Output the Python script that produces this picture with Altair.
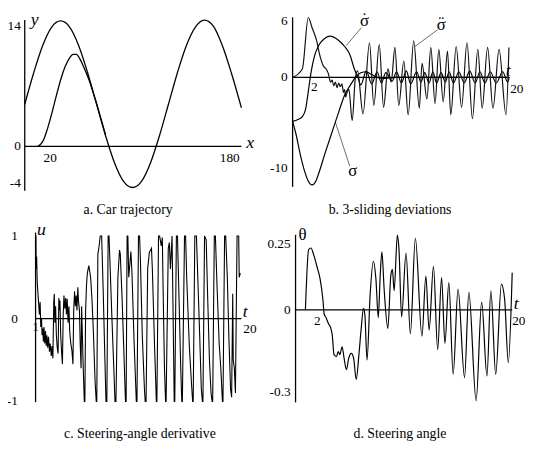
import altair as alt
import pandas as pd

# ---------------- data ----------------
# a. Car trajectory: (x, y)
A_OUTER = [(0, 4.8), (8, 8.4), (16, 11.5), (24, 13.6), (32, 14.3), (40, 13.6), (48, 11.5), (56, 8.4),
           (64, 4.8), (72, 1.2), (80, -1.9), (88, -4.0), (96, -4.7), (104, -4.0), (112, -1.9), (120, 1.2),
           (128, 4.8), (136, 8.4), (144, 11.5), (152, 13.6), (160, 14.4), (168, 13.7), (176, 11.5),
           (184, 8.4), (193, 4.4)]
A_INNER = [(11.5, 0), (14, 0.2), (17, 0.8), (20, 1.9), (24, 3.7), (28, 5.7), (32, 7.6), (36, 9.1),
           (40, 10.1), (43, 10.5), (46, 10.5), (49, 10.0), (52, 9.2), (55, 8.3), (58, 7.3), (61, 6.1),
           (64, 4.9), (68, 3.1), (72, 1.3)]

# b. 3-sliding deviations
B_T_SIGMA = [0, 0.3, 0.7, 1.1, 1.45, 1.8, 2.1, 2.4, 3.0, 3.6, 4.2, 4.8, 5.4, 5.8, 6.3, 6.8, 7.3, 7.8, 8.5, 9.5, 20.0]
B_SIGMA = [-4.7, -6.0, -8.2, -10.0, -11.1, -11.5, -11.2, -10.3, -8.1, -6.0, -3.9, -1.9, -0.7, 0.0, 0.5, 0.6,
           0.3, 0.0, -0.1, 0.0, 0.0]
B_T_SDOT = [0, 0.5, 0.9, 1.2, 1.45, 1.7, 2.0, 2.4, 2.9, 3.45, 4.2, 4.8, 5.3, 5.7, 6.0, 6.3, 6.8, 7.3, 7.8, 8.2,
            8.6, 9.2, 9.6, 10.05, 10.5, 10.9, 11.45, 11.85, 12.2, 12.6, 12.95, 13.3, 13.7, 14.1, 14.45, 14.85,
            15.35, 15.85, 16.35, 16.85, 17.3, 17.75, 18.25, 18.8, 19.4, 19.85, 20.0]
B_SDOT = [-4.7, -4.5, -4.2, -3.4, -1.5, 0.5, 2.2, 3.4, 4.1, 4.4, 4.0, 3.3, 2.4, 0.9, 0.1, -0.8, 0.7, -0.7, 0.6,
          -0.6, 0.5, -0.4, 0.6, -0.6, 0.7, -0.7, 0.6, -0.5, 0.5, -0.6, 0.6, -0.6, 0.5, -0.5, 0.6, -0.6, 0.6,
          -0.6, 0.7, -0.6, 0.6, -0.6, 0.6, -0.6, 0.6, -0.5, 0.0]
B_T_SDDOT = [0, 0.9, 1.45, 1.8, 2.2, 2.55, 2.85, 3.1, 3.3, 3.5, 3.65, 3.8, 3.95, 4.1, 4.25, 4.4, 4.55, 4.7, 4.8,
             4.9, 5.0, 5.2, 5.5, 5.8, 6.0, 6.5, 7.1, 7.5, 8.0, 8.4, 8.8, 9.1, 9.45, 9.8, 10.27, 10.67, 11.18,
             11.7, 11.95, 12.4, 12.76, 13.15, 13.5, 13.9, 14.3, 14.6, 15.1, 15.6, 16.1, 16.6, 17.1, 17.5, 18.0,
             18.5, 19.06, 19.7, 19.97]
B_SDDOT = [0, 0.9, 6.4, 5.3, 4.0, 2.2, 1.2, 0.9, 0.4, -0.5, -0.3, -0.9, -0.5, -1.1, -0.6, -1.0, -0.7, -1.6,
           -1.3, -2.1, -1.7, -1.3, -4.6, 0.0, 0.7, -3.9, 3.7, -3.0, 3.5, -3.2, 0.9, -0.5, 3.2, -3.0, 1.75, -4.0,
           3.9, -3.3, 1.5, -2.3, 3.2, -2.8, 3.0, -2.6, 2.8, -4.0, 3.3, -3.2, 3.7, -4.4, 3.0, -3.3, 3.2, -3.3,
           3.0, -4.0, 3.2]

# c. Steering-angle derivative: (t, u)
C_POINTS = [
    (1.0, 1.0), (1.03, 1.0), (1.05, 0.6), (1.1, 0.75), (1.15, 0.45), (1.25, 0.25), (1.35, 0.05), (1.42, 0.2),
    (1.48, -0.1), (1.55, 0.0), (1.6, -0.2), (1.67, -0.12), (1.72, -0.28), (1.78, -0.1), (1.85, -0.3),
    (1.92, -0.15), (1.98, -0.33), (2.05, -0.2), (2.12, -0.35), (2.2, -0.22), (2.28, -0.4), (2.35, -0.3),
    (2.45, -0.45), (2.52, -0.33), (2.6, -0.48), (2.68, 0.2), (2.73, 0.3), (2.78, -0.05), (2.85, 0.15),
    (2.92, -0.2), (3.0, -0.35), (3.08, -0.42), (3.15, 0.25), (3.2, 0.1), (3.25, 0.22), (3.32, -0.2),
    (3.4, -0.4), (3.48, -0.55), (3.55, 0.05), (3.62, 0.28), (3.7, 0.12), (3.78, 0.25), (3.85, 0.05),
    (3.92, 0.24), (4.0, -0.05), (4.08, 0.15), (4.15, -0.15), (4.25, -0.3), (4.35, -0.38), (4.45, -0.55),
    (4.52, 0.1), (4.6, 0.33), (4.68, 0.15), (4.75, 0.28), (4.82, 0.1), (4.9, 0.38), (4.97, 0.2), (5.05, 0.1),
    (5.12, -0.3), (5.2, -0.6), (5.25, 0.15), (5.32, -0.2), (5.4, -0.6), (5.5, -1.0), (5.55, -1.0), (5.62, 0.1),
    (5.7, 0.4), (5.78, 0.55), (5.85, 0.6), (5.92, 0.64), (6.0, 0.57), (6.08, 0.5), (6.2, 0.25), (6.35, -0.2),
    (6.45, -0.6), (6.5, -0.77),
    (6.6, -1.0), (6.65, -1.0), (6.75, 0.78), (6.85, 0.86), (6.97, 1.0), (7.1, 1.0), (7.25, 0.3), (7.4, -0.5),
    (7.5, -1.0), (7.58, -1.0), (7.7, 1.0), (7.78, 1.0), (7.85, 0.75), (8.05, 0.0), (8.25, -0.7), (8.33, -1.0),
    (8.42, -1.0), (8.6, 0.5), (8.75, 0.83), (8.82, 0.78), (9.0, 0.2), (9.2, -0.6), (9.3, -1.0), (9.36, -1.0),
    (9.45, 1.0), (9.52, 1.0), (9.6, 0.5), (9.8, 0.81), (9.9, 0.55), (10.1, -0.3), (10.3, -1.0), (10.36, -1.0),
    (10.5, 1.0), (10.6, 1.0), (10.68, 0.7), (10.85, -0.2), (11.05, -0.85), (11.12, -1.0), (11.2, -1.0),
    (11.35, 0.6), (11.5, 0.8), (11.7, 0.85), (11.78, 0.6), (12.0, -0.4), (12.15, -1.0), (12.2, -1.0),
    (12.35, 1.0), (12.45, 1.0), (12.6, 0.88), (12.7, 0.98), (12.78, 0.3), (12.9, -0.6), (13.0, -1.0),
    (13.05, -1.0), (13.25, 0.85), (13.35, 0.92), (13.45, 0.6), (13.6, 1.0), (13.68, 0.2), (13.8, -1.0),
    (13.85, -1.0), (14.0, 1.0), (14.1, 1.0), (14.25, 0.2), (14.4, -0.6), (14.5, -1.0), (14.55, -1.0),
    (14.75, 1.0), (14.85, 1.0), (14.95, 0.5), (15.2, -0.35), (15.4, -0.8), (15.5, -1.0), (15.55, -1.0),
    (15.7, 1.0), (15.85, 1.0), (15.95, 0.6), (16.15, -0.2), (16.3, -0.85), (16.4, -1.0), (16.45, -1.0),
    (16.6, 1.0), (16.75, 0.95), (16.9, 0.2), (17.05, -0.5), (17.2, -0.9), (17.3, -1.0), (17.35, -1.0),
    (17.5, 1.0), (17.6, 1.0), (17.75, 0.4), (17.95, -0.3), (18.1, -0.6), (18.25, -1.0), (18.3, -1.0),
    (18.45, 1.0), (18.55, 1.0), (18.7, 0.5), (18.85, -0.25), (19.0, -0.85), (19.1, -0.95), (19.2, 0.3),
    (19.25, -0.5), (19.35, -0.6), (19.45, -0.9), (19.6, 1.0), (19.75, 1.0), (19.8, 0.5), (19.9, 0.55)]

# d. Steering angle
D_T = [0.91, 1.21, 1.42, 1.67, 1.97, 2.27, 2.52, 2.64, 2.82, 3.03, 3.24, 3.39, 3.55, 3.79, 3.94, 4.09, 4.3,
       4.48, 4.7, 4.91, 5.15, 5.36, 5.6, 5.85, 6.06, 6.27, 6.4, 6.6, 6.88, 7.18, 7.42, 7.64, 7.8, 7.97, 8.18,
       8.52, 8.79, 8.94, 9.1, 9.4, 9.55, 9.79, 10.2, 10.6, 11.06, 11.67, 12.03, 12.33, 12.73, 13.12, 13.48,
       13.79, 14.15, 14.55, 15.0, 15.6, 16.0, 16.67, 17.18, 17.67, 18.03, 18.48, 19.0, 19.3, 19.64, 20.0]
D_THETA = [0.0, 0.228, 0.234, 0.209, 0.165, 0.116, 0.041, -0.015, -0.03, -0.052, -0.068, -0.096, -0.17,
           -0.177, -0.158, -0.17, -0.14, -0.183, -0.227, -0.183, -0.165, -0.183, -0.264, -0.17, -0.071, 0.005,
           -0.02, -0.19, 0.053, 0.184, 0.116, -0.03, 0.116, 0.22, 0.077, -0.071, 0.128, 0.153, 0.072, 0.283,
           0.228, -0.027, 0.215, -0.091, 0.271, -0.1, 0.128, -0.077, 0.165, -0.151, 0.122, -0.127, 0.103,
           -0.245, 0.078, -0.257, 0.066, -0.345, 0.029, -0.251, 0.072, -0.245, 0.097, 0.041, -0.2, 0.14]

# axis extents in data units: (x0, x1, y0, y1, x_at_vertical)
AXES = {"a": (0, 193, -5.06, 14.4, 0), "b": (0, 20, -11.7, 6.42, 0),
        "c": (1, 20, -1.01, 1.04, 1), "d": (0, 20, -0.351, 0.284, 0)}

A_YTICKS, A_XTICKS = ["14", "0", "-4"], ["20", "180"]
B_YTICKS, B_XTICKS = ["6", "0", "-10"], ["2", "20"]
C_YTICKS, C_XTICKS = ["1", "0", "-1"], ["1", "20"]
D_YTICKS, D_XTICKS = ["0.25", "0", "-0.3"], ["2", "20"]

CAPTIONS = {"a": ("a. Car trajectory", 92.1, -7.3), "b": ("b. 3-sliding deviations", 9.0, -14.2),
            "c": ("c. Steering-angle derivative", 10.64, -1.393), "d": ("d. Steering angle", 9.64, -0.47)}

# ---------------- layout / style ----------------
W, H, M = 525, 446, 8
SERIF = "Liberation Serif"
GEOM = {"a": dict(ox=25, sx=1.14, oy=145, sy=8.9),
        "b": dict(ox=297, sx=11, oy=75, sy=9.5),
        "c": dict(ox=25, sx=11, oy=320, sy=84),
        "d": dict(ox=300, sx=11, oy=311, sy=268)}


def scales(g):
    xs = alt.Scale(domain=[(M - g["ox"]) / g["sx"], (M + W - g["ox"]) / g["sx"]], nice=False, zero=False)
    ys = alt.Scale(domain=[(g["oy"] - M - H) / g["sy"], (g["oy"] - M) / g["sy"]], nice=False, zero=False)
    return xs, ys


def enc_xy(g):
    xs, ys = scales(g)
    return dict(x=alt.X("x:Q", scale=xs, axis=None), y=alt.Y("y:Q", scale=ys, axis=None))


def line_layer(xs_, ys_, g, width=1.2, interp="monotone", color="black"):
    df = pd.DataFrame({"x": list(xs_), "y": list(ys_), "i": list(range(len(xs_)))})
    return alt.Chart(df).mark_line(color=color, strokeWidth=width, interpolate=interp).encode(
        order=alt.Order("i:Q"), **enc_xy(g))


def rule_layer(segs, g, width=1.2, color="black"):
    df = pd.DataFrame(segs, columns=["x", "y", "x2", "y2"])
    return alt.Chart(df).mark_rule(color=color, strokeWidth=width).encode(
        x2="x2:Q", y2="y2:Q", **enc_xy(g))


STYLES = {"tick": dict(fontSize=13.5), "var": dict(fontSize=18, fontStyle="italic"),
          "greek": dict(fontSize=17), "cap": dict(fontSize=14)}


def text_layers(rows, g):
    # rows: (label, x, y, dx_px, dy_px, align, kind)
    out = []
    groups = {}
    for lab, x, y, dx, dy, align, kind in rows:
        groups.setdefault((align, kind), []).append((lab, x + dx / g["sx"], y - dy / g["sy"]))
    for (align, kind), items in groups.items():
        df = pd.DataFrame(items, columns=["label", "x", "y"])
        out.append(alt.Chart(df).mark_text(align=align, baseline="middle", font=SERIF, color="black",
                                           **STYLES[kind]).encode(text="label:N", **enc_xy(g)))
    return out


def axis_layer(key):
    x0, x1, y0, y1, xv = AXES[key]
    return rule_layer([(xv, y0, xv, y1), (x0, 0, x1, 0)], GEOM[key], width=1.3)


def ytick_rows(labels, xv, dx, dys=(0, 0, 0)):
    return [(lab, xv, float(lab), dx, dy, "right", "tick") for lab, dy in zip(labels, dys)]


# ---------- panel a ----------
ga = GEOM["a"]
rows_a = ytick_rows(A_YTICKS, 0, -4, (2, 0, 2))
rows_a += [(lab, float(lab), 0, 3, 12, "center", "tick") for lab in A_XTICKS]
rows_a += [("y", 0, 14, 10, -4, "center", "var"), ("x", 193, 0, 9, -3, "center", "var")]
cap = CAPTIONS["a"]
rows_a += [(cap[0], cap[1], cap[2], 0, 0, "center", "cap")]
panel_a = alt.layer(
    axis_layer("a"),
    line_layer([p[0] for p in A_OUTER], [p[1] for p in A_OUTER], ga, 1.3),
    line_layer([p[0] for p in A_INNER], [p[1] for p in A_INNER], ga, 1.3),
    *text_layers(rows_a, ga))

# ---------- panel b ----------
gb = GEOM["b"]
rows_b = ytick_rows(B_YTICKS, 0, -5, (0, 0, -3))
rows_b += [("2", 2, 0, 0, 10, "center", "tick"), ("20", 20, 0, 1, 12, "left", "tick")]
rows_b += [("t", 20, 0, -1, -6, "center", "var")]
rows_b += [("σ", 6.64, 6.0, 0, 0, "center", "greek"), ("˙", 6.64, 6.0, 0, -2, "center", "greek"),
           ("σ", 13.73, 5.6, 0, 0, "center", "greek"), ("¨", 13.73, 5.6, 0, -2, "center", "greek"),
           ("σ", 5.55, -10.0, 0, 0, "center", "greek")]
cap = CAPTIONS["b"]
rows_b += [(cap[0], cap[1], cap[2], 0, 0, "center", "cap")]
LEADERS_B = [(6.34, 5.3, 4.95, 3.4), (13.39, 5.1, 11.3, 3.3), (5.27, -9.47, 3.95, -4.8)]
panel_b = alt.layer(
    axis_layer("b"),
    rule_layer(LEADERS_B, gb, width=0.8, color="#444"),
    line_layer(B_T_SIGMA, B_SIGMA, gb, 1.2),
    line_layer(B_T_SDOT, B_SDOT, gb, 1.2),
    line_layer(B_T_SDDOT, B_SDDOT, gb, 1.2, color="#111"),
    *text_layers(rows_b, gb))

# ---------- panel c ----------
gc = GEOM["c"]
rows_c = ytick_rows(C_YTICKS, 1, -18)
rows_c += [("1", 1, 0, 0, 9, "center", "tick"), ("20", 20, 0, 2, 11, "left", "tick")]
rows_c += [("t", 20, 0, 4, -7, "center", "var"), ("u", 1, 1, 6, -6, "center", "var")]
cap = CAPTIONS["c"]
rows_c += [(cap[0], cap[1], cap[2], 0, 0, "center", "cap")]
panel_c = alt.layer(
    axis_layer("c"),
    line_layer([p[0] for p in C_POINTS], [p[1] for p in C_POINTS], gc, 1.1, "linear"),
    *text_layers(rows_c, gc))

# ---------- panel d ----------
gd = GEOM["d"]
rows_d = ytick_rows(D_YTICKS, 0, -5, (0, 0, 3))
rows_d += [("2", 2, 0, 0, 11, "center", "tick"), ("20", 20, 0, 0, 11, "left", "tick")]
rows_d += [("t", 20, 0, 4, -6, "center", "var"), ("θ", 0, 0.284, 7, 0, "center", "greek")]
cap = CAPTIONS["d"]
rows_d += [(cap[0], cap[1], cap[2], 0, 0, "center", "cap")]
panel_d = alt.layer(
    axis_layer("d"),
    line_layer(D_T, D_THETA, gd, 1.2),
    *text_layers(rows_d, gd))

chart = alt.layer(panel_a, panel_b, panel_c, panel_d).resolve_scale(
    x="independent", y="independent"
).properties(
    width=W, height=H, autosize=alt.AutoSizeParams(type="none"), padding=0, background="white"
).configure_view(stroke=None)

chart.save("out.html", embed_options={"renderer": "svg", "actions": False})
